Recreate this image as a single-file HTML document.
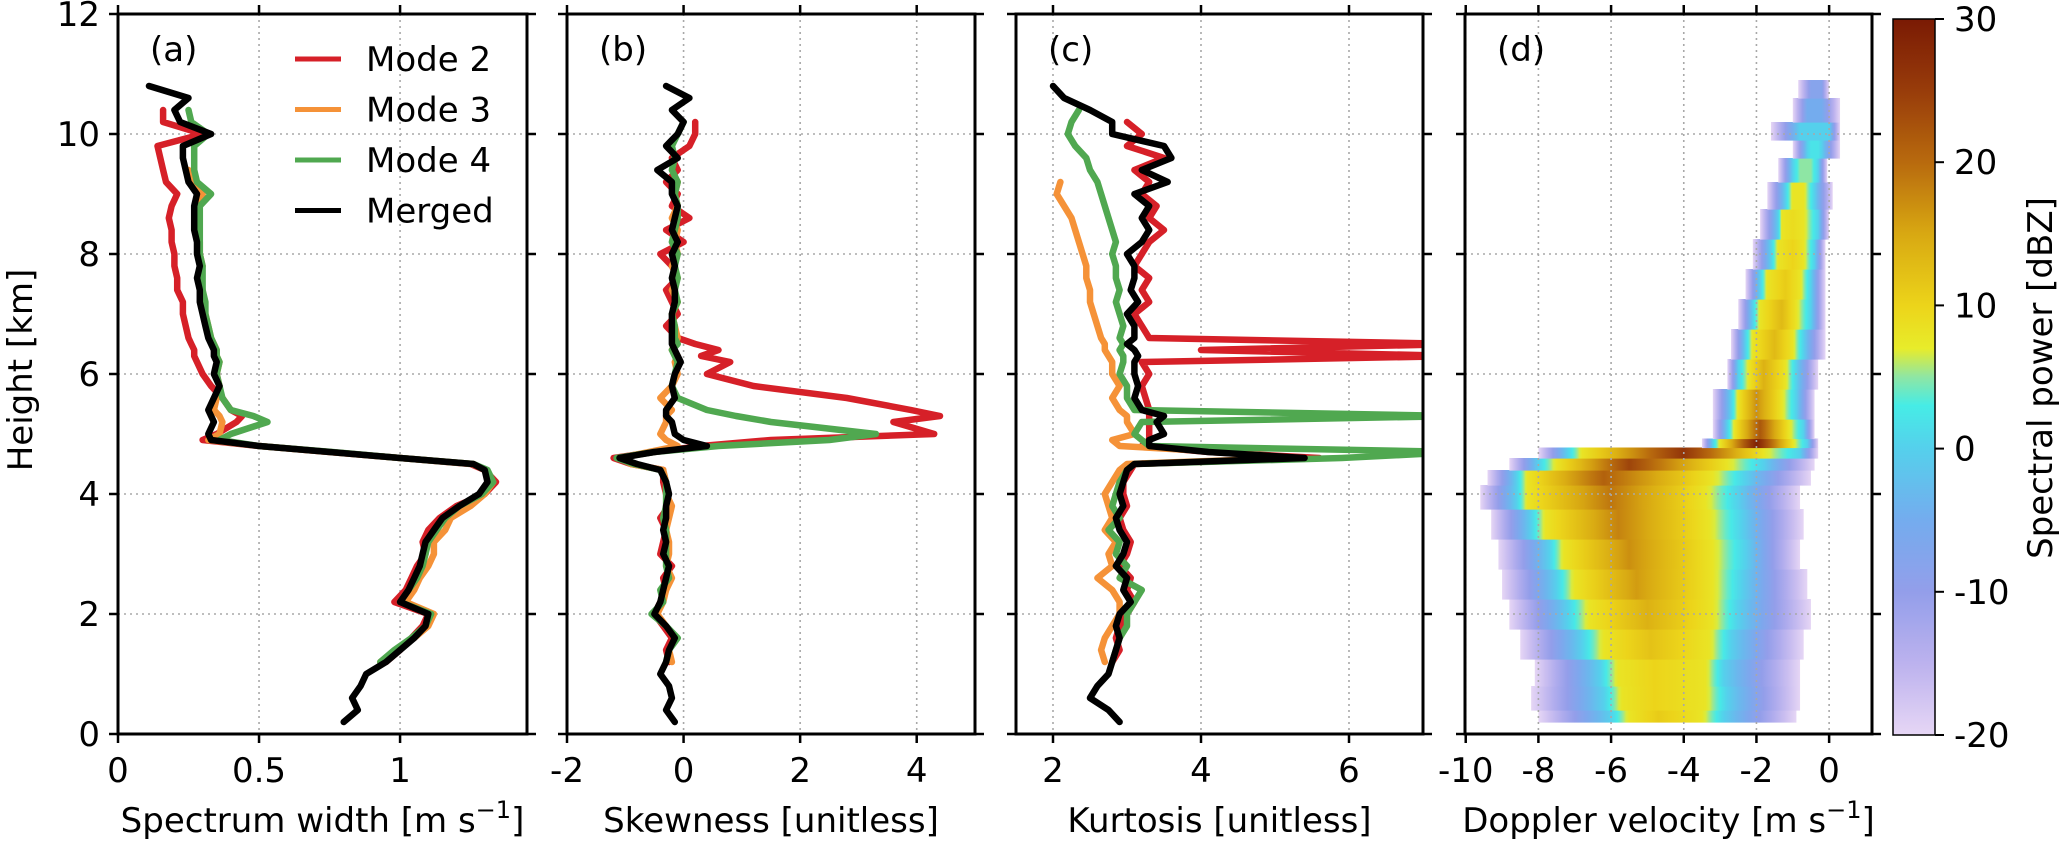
<!DOCTYPE html>
<html><head><meta charset="utf-8">
<style>
html,body{margin:0;padding:0;background:#fff;}
svg{display:block;}
text{font-family:"DejaVu Sans","Liberation Sans",sans-serif;font-size:34px;fill:#000;}
</style></head>
<body>
<svg id="fig" width="2067" height="844" viewBox="0 0 2067 844" xmlns="http://www.w3.org/2000/svg">
<defs id="defs"></defs>
</svg>
<script>
// ---------- data ----------
const heights = [0.2,0.4,0.6,0.8,1.0, 1.2,1.4,1.6,1.8,2.0, 2.2,2.4,2.6,2.8,3.0, 3.2,3.4,3.6,3.8,4.0,
 4.2,4.4,4.5,4.6,4.7,4.8,4.9,5.0, 5.2,5.3,5.4,5.6,5.8,6.0, 6.2,6.3,6.4,6.5,6.6,
 6.8,7.0,7.2,7.4,7.6, 7.8,8.0,8.2,8.4,8.6, 8.8,9.0,9.2,9.4,9.6, 9.8,10.0,10.2,10.4,10.6, 10.8];
const N = null;
// (a) spectrum width
const swMode2 = [N,N,N,N,N, .95,1.0,1.04,1.08,1.1, .98,1.02,1.04,1.06,1.09, 1.08,1.10,1.14,1.20,1.30,
 1.34,1.30,1.25,1.0,0.75,0.5,0.30,0.35, .42,.44,.40,.37,.33,.30, .28,.27,.27,.26,.25,
 .24,.23,.23,.21,.21, .20,.20,.19,.19,.18, .19,.21,.17,.16,.15, .14,.30,.16,.16,N, N];
const swMode3 = [N,N,N,N,N, .93,.99,1.05,1.1,1.12, 1.02,1.05,1.07,1.1,1.12, 1.12,1.16,1.18,1.25,1.3,
 1.33,1.30,1.26,1.0,0.75,0.5,0.32,0.36, .37,.36,.34,.35,.36,.35, .36,.35,.35,.34,.33,
 .32,.31,.30,.30,.29, .30,.29,.29,.28,.28, .28,.30,.26,.25,N, N,N,N,N,N, N];
const swMode4 = [N,N,N,N,N, .93,.98,1.04,1.09,1.11, 1.0,1.03,1.06,1.08,1.09, 1.1,1.13,1.16,1.21,1.29,
 1.33,1.31,1.26,1.0,0.76,0.5,0.36,0.40, .53,.48,.40,.37,.36,.35, .36,.35,.35,.34,.33,
 .32,.31,.31,.30,.30, .30,.29,.29,.29,.29, .29,.33,.28,.27,.27, .27,.32,.26,.25,N, N];
const swMerged = [.80,.85,.83,.86,.88, .95,1.0,1.05,1.09,1.10, 1.0,1.03,1.05,1.07,1.08, 1.09,1.12,1.15,1.21,1.28,
 1.31,1.30,1.26,1.0,0.75,0.5,0.33,0.32, .34,.33,.32,.34,.36,.34, .35,.34,.34,.33,.32,
 .31,.30,.29,.29,.28, .29,.28,.28,.27,.27, .27,.28,.25,.24,.23, .23,.33,.22,.20,.25, .11];
// (b) skewness
const skMode2 = [N,N,N,N,N, -0.25,-0.3,-0.2,-0.35,-0.5, -0.4,-0.3,-0.35,-0.2,-0.4, -0.35,-0.3,-0.4,-0.25,-0.3,
 -0.35,-0.35,-0.9,-1.2,-0.5,0.3,1.5,4.3, 3.6,4.4,3.9,2.8,1.2,0.4, 0.8,0.3,0.6,0.2,-0.1,
 -0.3,-0.1,-0.2,-0.3,-0.1, -0.2,-0.4,0.0,-0.3,0.1, -0.2,-0.1,-0.3,-0.1,-0.2, 0.1,0.2,0.2,N,N, N];
const skMode3 = [N,N,N,N,N, -0.2,-0.25,-0.15,-0.3,-0.45, -0.35,-0.3,-0.2,-0.3,-0.25, -0.25,-0.3,-0.25,-0.2,-0.3,
 -0.3,-0.35,-0.9,-1.1,-0.6,-0.1,-0.3,-0.4, -0.3,-0.3,-0.2,-0.4,-0.2,-0.1, -0.15,-0.1,-0.2,-0.15,-0.1,
 -0.15,-0.2,-0.1,-0.2,-0.1, -0.2,-0.1,-0.15,-0.1,-0.2, -0.1,-0.15,-0.1,N,N, N,N,N,N,N, N];
const skMode4 = [N,N,N,N,N, -0.3,-0.25,-0.1,-0.3,-0.55, -0.35,-0.4,-0.25,-0.3,-0.3, -0.3,-0.3,-0.35,-0.3,-0.3,
 -0.3,-0.4,-0.85,-1.15,-0.5,0.6,2.5,3.3, 1.5,0.9,0.4,-0.1,-0.2,-0.15, -0.1,-0.15,-0.2,-0.1,-0.15,
 -0.15,-0.2,-0.1,-0.15,-0.1, -0.15,-0.1,-0.2,-0.15,-0.1, -0.1,-0.15,-0.1,-0.2,-0.15, -0.2,-0.1,0.0,N,N, N];
const skMerged = [-0.15,-0.3,-0.2,-0.25,-0.4, -0.3,-0.25,-0.15,-0.3,-0.5, -0.4,-0.35,-0.3,-0.25,-0.35, -0.3,-0.35,-0.3,-0.3,-0.25,
 -0.3,-0.4,-0.8,-1.1,-0.5,0.4,0.0,-0.15, -0.2,-0.3,-0.3,-0.15,-0.2,-0.15, -0.05,-0.1,-0.15,-0.2,-0.2,
 -0.2,-0.2,-0.15,-0.15,-0.2, -0.15,-0.2,-0.1,-0.2,-0.15, -0.1,-0.2,-0.2,-0.45,-0.1, -0.3,-0.1,0.0,-0.2,0.1, -0.3];
// (c) kurtosis
const kuMode2 = [N,N,N,N,N, 2.8,2.9,2.85,2.9,3.0, 3.1,3.0,3.05,2.9,3.0, 3.05,2.95,2.9,3.0,2.95,
 2.95,3.05,3.1,5.6,4.1,3.2,3.3,3.3, 3.3,3.3,3.3,3.25,3.2,3.3, 3.2,7.5,4.0,7.5,3.3,
 3.2,3.1,3.3,3.2,3.3, 3.1,3.2,3.3,3.5,3.3, 3.4,3.2,3.3,3.1,3.5, 3.0,3.2,3.0,N,N, N];
const kuMode3 = [N,N,N,N,N, 2.7,2.65,2.7,2.8,2.9, 2.9,2.8,2.6,2.8,2.75, 2.85,2.7,2.8,2.75,2.7,
 2.8,2.9,3.0,5.2,4.3,2.9,2.8,3.1, 3.0,3.0,2.9,2.8,2.9,2.8, 2.8,2.75,2.7,2.7,2.65,
 2.6,2.55,2.5,2.5,2.45, 2.45,2.4,2.35,2.3,2.25, 2.15,2.05,2.1,N,N, N,N,N,N,N, N];
const kuMode4 = [N,N,N,N,N, 2.8,2.85,2.9,3.0,3.0, 3.1,3.2,2.9,3.0,2.85, 2.9,2.75,2.9,2.8,2.85,
 2.9,3.0,3.1,5.9,7.5,3.3,3.2,3.1, 3.2,7.5,3.1,3.0,3.0,2.9, 2.95,2.95,2.9,2.95,2.9,
 2.95,2.9,2.85,2.9,2.85, 2.85,2.8,2.85,2.8,2.75, 2.7,2.65,2.6,2.5,2.45, 2.3,2.2,2.25,2.35,N, N];
const kuMerged = [2.9,2.75,2.5,2.6,2.75, 2.8,2.85,2.9,2.85,2.9, 3.05,2.95,3.0,2.85,2.95, 3.0,2.9,2.85,2.95,2.9,
 2.95,3.0,3.1,5.4,4.1,3.3,3.3,3.5, 3.4,3.5,3.2,3.1,3.15,3.1, 3.1,3.15,3.1,3.0,3.1,
 3.1,3.0,3.15,3.05,3.1, 3.1,3.0,3.2,3.3,3.2, 3.3,3.1,3.55,3.2,3.6, 3.5,2.8,2.8,2.5,2.15, 2.0];
// (d) Doppler spectrum rows
const dHeights = [0.2,0.6,1.0,1.5,2.0,2.5,3.0,3.5,4.0,4.3,4.5,4.7,4.85,5.0,5.5,6.0,6.5,7.0,7.5,8.0,8.5,9.0,9.4,9.8,10.0,10.4,10.8];
const dOuterL = [-8.0,-8.2,-8.1,-8.5,-8.8,-9.0,-9.1,-9.3,-9.6,-9.4,-8.8,-8.0,-3.5,-3.2,-3.2,-2.8,-2.7,-2.5,-2.3,-2.1,-1.9,-1.7,-1.4,-1.0,-1.6,-1.0,-0.85];
const dCyanL  = [-6.0,-6.2,-6.3,-6.8,-7.2,-7.5,-7.7,-8.2,-8.6,-8.6,-8.0,-7.2,-3.2,-2.8,-2.7,-2.5,-2.3,-2.1,-1.9,-1.6,-1.4,-1.2,-1.0,-0.6,-0.8,-0.6,-0.5];
const dYelL   = [-5.5,-5.7,-5.8,-6.2,-6.6,-7.0,-7.3,-7.8,-8.3,-8.3,-7.5,-6.8,-3.0,-2.6,-2.5,-2.2,-2.1,-1.9,-1.7,-1.4,-1.3,-1.0,-0.8,-0.5,-0.5,-0.5,-0.4];
const dCenter = [-4.7,-4.8,-4.8,-4.9,-5.0,-5.3,-5.5,-5.8,-6.0,-6.2,-5.5,-4.0,-2.0,-1.9,-2.0,-1.8,-1.5,-1.3,-1.2,-1.0,-1.0,-0.9,-0.6,-0.4,-0.4,-0.4,-0.4];
const dYelR   = [-3.5,-3.4,-3.4,-3.3,-3.2,-3.2,-3.2,-3.3,-3.4,-3.2,-2.8,-1.8,-1.0,-1.1,-1.3,-1.2,-1.0,-0.9,-0.8,-0.7,-0.7,-0.7,-0.5,-0.3,-0.3,-0.3,-0.4];
const dCyanR  = [-2.9,-2.8,-2.9,-2.7,-2.5,-2.4,-2.3,-2.4,-2.5,-2.3,-1.8,-0.8,-0.6,-0.7,-0.9,-0.9,-0.7,-0.5,-0.5,-0.4,-0.3,-0.4,-0.3,-0.2,0.0,-0.2,-0.2];
const dOuterR = [-0.9,-0.8,-0.8,-0.7,-0.5,-0.6,-0.8,-0.7,-0.8,-0.5,-0.4,-0.3,-0.3,-0.4,-0.4,-0.3,-0.1,-0.1,-0.1,-0.1,0.0,0.1,-0.05,0.3,0.3,0.3,0.0];
const dPeak   = [11,10,10,12,14,16,17,18,19,21,24,26,29,22,17,14,13,13,11,10,9,8,5,2,0,-5,-8];
const yTicks = [0,2,4,6,8,10,12];
const aTicks = [0,0.5,1], aTickLabels = ["0","0.5","1"];
const bTicks = [-2,0,2,4], bTickLabels = ["-2","0","2","4"];
const cTicks = [2,4,6], cTickLabels = ["2","4","6"];
const dTicks = [-10,-8,-6,-4,-2,0], dTickLabels = ["-10","-8","-6","-4","-2","0"];
const cbTicks = [-20,-10,0,10,20,30], cbTickLabels = ["-20","-10","0","10","20","30"];
const legendLabels = ["Mode 2","Mode 3","Mode 4","Merged"];

// ---------- helpers ----------
const NS = "http://www.w3.org/2000/svg";
const svg = document.getElementById('fig');
const defs = document.getElementById('defs');
function mk(tag, attrs, parent){ const e=document.createElementNS(NS,tag); for(const k in attrs) e.setAttribute(k,attrs[k]); (parent||svg).appendChild(e); return e; }
const Y0 = 734, Y1 = 14;
function yPx(h){ return Y0 - h*(Y0-Y1)/12; }
const panels = {
  a:{x0:118,x1:527,vmin:0,vmax:1.45},
  b:{x0:567,x1:975,vmin:-2,vmax:5},
  c:{x0:1016,x1:1423,vmin:1.5,vmax:7},
  d:{x0:1465,x1:1872,vmin:-10.02,vmax:1.18}
};
function xPx(p,v){ return p.x0 + (v-p.vmin)/(p.vmax-p.vmin)*(p.x1-p.x0); }

const cmap = [[-20,[230,214,245]],[-15,[188,178,238]],[-10,[147,158,234]],[-5,[116,172,238]],[0,[85,208,236]],[3,[70,236,230]],[5,[142,230,164]],[7,[232,236,42]],[10,[236,212,26]],[15,[216,168,18]],[20,[184,106,14]],[25,[152,60,10]],[30,[122,26,4]]];
function color(d){
  if(d<=cmap[0][0]) return 'rgb('+cmap[0][1].join(',')+')';
  for(let i=1;i<cmap.length;i++){ if(d<=cmap[i][0]){ const t=(d-cmap[i-1][0])/(cmap[i][0]-cmap[i-1][0]); const a=cmap[i-1][1],b=cmap[i][1]; return 'rgb('+a.map((v,k)=>Math.round(v+(b[k]-v)*t)).join(',')+')'; } }
  return 'rgb('+cmap[cmap.length-1][1].join(',')+')';
}

// ---------- panel (d) heatmap ----------
const clipD = mk('clipPath',{id:'clipd'},defs);
mk('rect',{x:panels.d.x0,y:Y1,width:panels.d.x1-panels.d.x0,height:Y0-Y1},clipD);
const gD = mk('g',{'clip-path':'url(#clipd)'});


for(let i=0;i<dHeights.length;i++){
  const p=panels.d, pk=dPeak[i];
  const pts=[[dOuterL[i],-20],[dCyanL[i],Math.min(0,pk)],[dYelL[i],Math.min(8,pk)],[dCenter[i],pk],[dYelR[i],Math.min(8,pk)],[dCyanR[i],Math.min(0,pk)],[dOuterR[i],-20]];
  const xl=xPx(p,pts[0][0]), xr=xPx(p,pts[6][0]);
  const gid='rg'+i;
  const lg=mk('linearGradient',{id:gid,gradientUnits:'userSpaceOnUse',x1:xl,x2:xr,y1:0,y2:0},defs);
  for(let s=0;s<pts.length-1;s++){
    for(let k=0;k<=6;k++){
      const t=k/6; const v=pts[s][0]+(pts[s+1][0]-pts[s][0])*t; const db=pts[s][1]+(pts[s+1][1]-pts[s][1])*t;
      const off=Math.max(0,Math.min(1,(xPx(p,v)-xl)/Math.max(1,xr-xl)));
      mk('stop',{offset:off,'stop-color':color(db)},lg);
    }
  }
  const hTop = i<dHeights.length-1 ? (dHeights[i]+dHeights[i+1])/2 : dHeights[i]+0.1;
  const hBot = i>0 ? (dHeights[i]+dHeights[i-1])/2 : dHeights[i];
  const r=mk('rect',{x:xl,y:yPx(hTop),width:xr-xl,height:yPx(hBot)-yPx(hTop)+0.6,fill:'url(#'+gid+')'},gD);
  
  
}

// ---------- grids, frames, ticks ----------
function drawPanel(key, ticks){
  const p=panels[key];
  const g=mk('g',{});
  
  
  ticks.forEach(v=>{ const x=xPx(p,v); const l=mk('line',{x1:x,x2:x,y1:Y1,y2:Y0,stroke:'#a8a8a8','stroke-width':1.6,'stroke-dasharray':'2,4'},g);   });
  yTicks.forEach(h=>{ if(h===0||h===12) return; const y=yPx(h); const l=mk('line',{x1:p.x0,x2:p.x1,y1:y,y2:y,stroke:'#a8a8a8','stroke-width':1.6,'stroke-dasharray':'2,4'},g);   });
  return g;
}
function drawFrame(key, ticks, labels, label, title, showYLabels){
  const p=panels[key];
  const g=mk('g',{});
  
  
  ticks.forEach((v,i)=>{ const x=xPx(p,v);
    mk('line',{x1:x,x2:x,y1:Y0,y2:Y0+9,stroke:'#000','stroke-width':2.5},g);
    mk('line',{x1:x,x2:x,y1:Y1,y2:Y1-9,stroke:'#000','stroke-width':2.5},g);
    const t=mk('text',{x:x,y:782,'text-anchor':'middle'},g); t.textContent=labels[i];
    
    
  });
  yTicks.forEach(h=>{ const y=yPx(h);
    mk('line',{x1:p.x0-9,x2:p.x0,y1:y,y2:y,stroke:'#000','stroke-width':2.5},g);
    mk('line',{x1:p.x1,x2:p.x1+9,y1:y,y2:y,stroke:'#000','stroke-width':2.5},g);
    if(showYLabels){ const t=mk('text',{x:100,y:y+12,'text-anchor':'end'},g); t.textContent=String(h);
      
       }
  });
  const fr=mk('rect',{x:p.x0,y:Y1,width:p.x1-p.x0,height:Y0-Y1,fill:'none',stroke:'#000','stroke-width':3},g);
  
  
  const pl=mk('text',{x:p.x0+32,y:61},g); pl.textContent=label;
  
  
  const tt=mk('text',{x:(p.x0+p.x1)/2,y:832,'text-anchor':'middle'},g);
  tt.innerHTML=title;
  
  
}
drawPanel('a',aTicks); drawPanel('b',bTicks); drawPanel('c',cTicks); drawPanel('d',dTicks);

// ---------- line series ----------
const colors = {m2:'#d62028',m3:'#f59238',m4:'#50a850',mg:'#000000'};
function drawSeries(key, vals, col, name){
  const p=panels[key];
  const cid='clip'+key;
  if(!document.getElementById(cid)){ const c=mk('clipPath',{id:cid},defs); mk('rect',{x:p.x0,y:Y1,width:p.x1-p.x0,height:Y0-Y1},c); }
  let d=''; let pen=false;
  for(let i=0;i<heights.length;i++){
    if(vals[i]===null){ pen=false; continue; }
    d += (pen?'L':'M') + xPx(p,vals[i]).toFixed(1)+','+yPx(heights[i]).toFixed(1);
    pen=true;
  }
  const path=mk('path',{d:d,fill:'none',stroke:col,'stroke-width':6.5,'stroke-linejoin':'round','stroke-linecap':'round','clip-path':'url(#'+cid+')'});
  
  
}
drawSeries('a',swMode2,colors.m2,'spectrum-width-mode2-line');
drawSeries('a',swMode3,colors.m3,'spectrum-width-mode3-line');
drawSeries('a',swMode4,colors.m4,'spectrum-width-mode4-line');
drawSeries('a',swMerged,colors.mg,'spectrum-width-merged-line');
drawSeries('b',skMode2,colors.m2,'skewness-mode2-line');
drawSeries('b',skMode3,colors.m3,'skewness-mode3-line');
drawSeries('b',skMode4,colors.m4,'skewness-mode4-line');
drawSeries('b',skMerged,colors.mg,'skewness-merged-line');
drawSeries('c',kuMode2,colors.m2,'kurtosis-mode2-line');
drawSeries('c',kuMode3,colors.m3,'kurtosis-mode3-line');
drawSeries('c',kuMode4,colors.m4,'kurtosis-mode4-line');
drawSeries('c',kuMerged,colors.mg,'kurtosis-merged-line');

const sup='<tspan dy="-14" font-size="24">−1</tspan><tspan dy="14">]</tspan>';
drawFrame('a',aTicks,aTickLabels,'(a)','Spectrum width [m s'+sup,true);
drawFrame('b',bTicks,bTickLabels,'(b)','Skewness [unitless]',false);
drawFrame('c',cTicks,cTickLabels,'(c)','Kurtosis [unitless]',false);
drawFrame('d',dTicks,dTickLabels,'(d)','Doppler velocity [m s'+sup,false);

const yt=mk('text',{x:0,y:0,'text-anchor':'middle',transform:'translate(32,370) rotate(-90)'});
yt.textContent='Height [km]';



// ---------- legend ----------
const lg=mk('g',{});


const legCols=[colors.m2,colors.m3,colors.m4,colors.mg];
legendLabels.forEach((lab,i)=>{
  const y=59+i*50.5;
  const e=mk('g',{},lg);
  
  
  mk('line',{x1:295,x2:341,y1:y,y2:y,stroke:legCols[i],'stroke-width':5},e);
  const t=mk('text',{x:366,y:y+12},e); t.textContent=lab;
});

// ---------- colorbar ----------
const CB={x0:1893,x1:1935,top:19,bot:735};
function cbY(d){ return CB.bot-(d+20)/50*(CB.bot-CB.top); }
const cbg=mk('linearGradient',{id:'cbgrad',x1:0,y1:1,x2:0,y2:0},defs);
for(let d=-20; d<=30; d+=1){ mk('stop',{offset:(d+20)/50,'stop-color':color(d)},cbg); }
const cb=mk('g',{});


mk('rect',{x:CB.x0,y:CB.top,width:CB.x1-CB.x0,height:CB.bot-CB.top,fill:'url(#cbgrad)',stroke:'#000','stroke-width':1.5},cb);
cbTicks.forEach((d,i)=>{ const y=cbY(d);
  mk('line',{x1:CB.x1,x2:CB.x1+9,y1:y,y2:y,stroke:'#000','stroke-width':2},cb);
  const t=mk('text',{x:1954,y:y+12},cb); t.textContent=cbTickLabels[i];
  
  
});
const cbt=mk('text',{x:0,y:0,'text-anchor':'middle',transform:'translate(2052,378) rotate(-90)'});
cbt.textContent='Spectral power [dBZ]';


</script>
</body></html>
